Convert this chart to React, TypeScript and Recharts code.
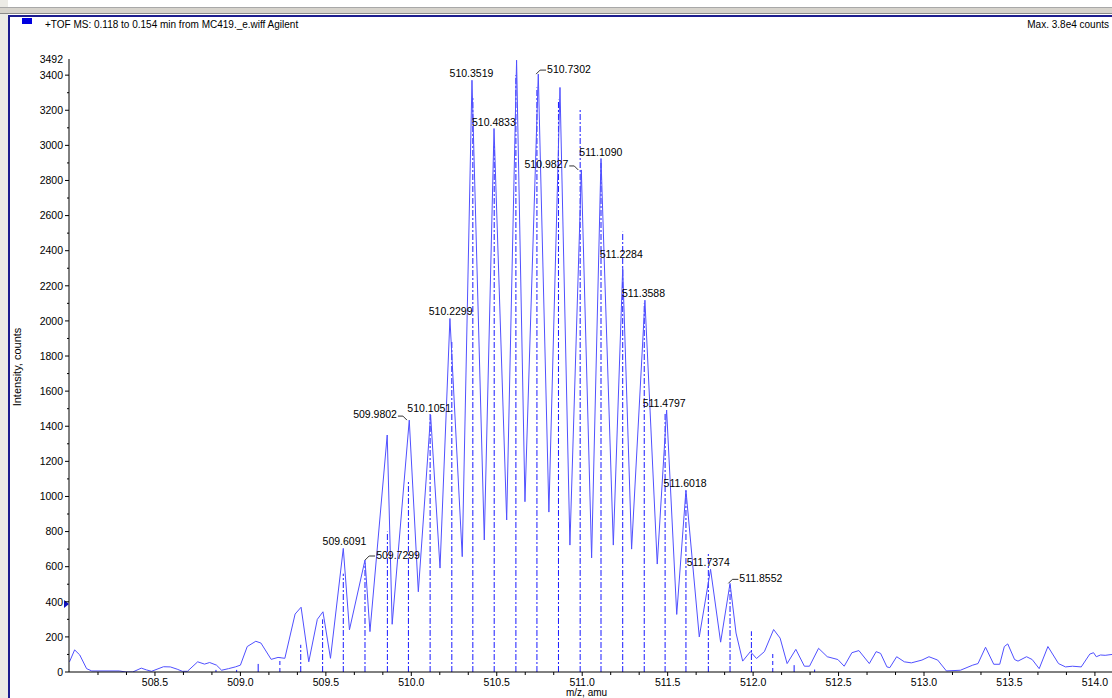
import React from "react";
import {
  ComposedChart,
  Line,
  Scatter,
  XAxis,
  YAxis,
  ReferenceLine,
  ReferenceDot,
} from "recharts";

// profile trace (m/z, counts)
const profileMz = [
  508.0, 508.03, 508.06, 508.1, 508.13, 508.29, 508.33, 508.37, 508.42, 508.45,
  508.48, 508.55, 508.59, 508.63, 508.66, 508.69, 508.75, 508.79, 508.82, 508.86,
  508.89, 508.93, 508.97, 509.0, 509.04, 509.09, 509.12, 509.18, 509.22, 509.26,
  509.32, 509.355, 509.4, 509.45, 509.483, 509.527, 509.602, 509.638, 509.729, 509.758,
  509.859, 509.888, 509.988, 510.041, 510.113, 510.168, 510.226, 510.298, 510.355, 510.427,
  510.484, 510.558, 510.616, 510.665, 510.743, 510.805, 510.87, 510.928, 510.995, 511.055,
  511.11, 511.182, 511.237, 511.289, 511.367, 511.439, 511.494, 511.553, 511.607, 511.685,
  511.751, 511.81, 511.865, 511.9, 511.939, 511.984, 512.02, 512.066, 512.12, 512.158,
  512.199, 512.25, 512.3, 512.33, 512.383, 512.434, 512.496, 512.533, 512.578, 512.619,
  512.68, 512.72, 512.746, 512.783, 512.8, 512.84, 512.885, 512.926, 512.988, 513.029,
  513.08, 513.131, 513.213, 513.285, 513.316, 513.36, 513.408, 513.443, 513.47, 513.49,
  513.53, 513.55, 513.6, 513.633, 513.674, 513.725, 513.787, 513.828, 513.869, 513.92,
  513.97, 513.992, 514.008, 514.033, 514.06, 514.1,
];
const profileCounts = [
  58, 126, 97, 19, 6, 6, 0, 0, 22, 12,
  4, 30, 29, 16, 4, 4, 58, 45, 54, 39,
  10, 19, 29, 39, 145, 175, 165, 72, 83, 78,
  330, 369, 58, 300, 343, 78, 704, 240, 638, 230,
  1350, 272, 1435, 457, 1464, 592, 2014, 657, 3371, 752,
  3096, 866, 3485, 970, 3406, 911, 3330, 723, 2860, 650,
  2925, 723, 2300, 700, 2118, 615, 1492, 328, 1036, 200,
  585, 170, 505, 222, 62, 116, 77, 116, 242, 193,
  48, 129, 33, 33, 135, 87, 71, 33, 110, 122,
  48, 116, 106, 29, 25, 87, 58, 52, 68, 87,
  68, 6, 10, 39, 48, 141, 44, 44, 145, 160,
  71, 62, 87, 71, 19, 145, 48, 29, 33, 29,
  102, 110, 87, 97, 95, 100,
];

// centroid sticks
const stickMz = [
  508.857, 508.978, 509.104, 509.231, 509.353, 509.481, 509.602, 509.729, 509.86, 509.983,
  510.11, 510.237, 510.36, 510.485, 510.612, 510.735, 510.861, 510.988, 511.11, 511.237,
  511.363, 511.485, 511.607, 511.738, 511.865, 511.99, 512.115, 512.24, 512.36,
];
const stickCounts = [
  12, 12, 46, 84, 155, 300, 560, 620, 800, 1090,
  1470, 1890, 3270, 3000, 3400, 3330, 3260, 3212, 2900, 2508,
  2100, 1480, 1030, 678, 495, 232, 106, 39, 14,
];
const stickKind = [
  "s", "s", "s", "d", "dd", "dd", "dd", "dd", "dd", "dd",
  "dd", "dd", "dd", "dd", "dd", "dd", "dd", "dd", "dd", "dd",
  "dd", "dd", "dd", "dd", "dd", "dd", "d", "s", "s",
];

// peak annotations
const labelMz = [
  509.6091, 509.7299, 509.9802, 510.1051, 510.2299, 510.3519, 510.4833, 510.6086, 510.7302,
  510.9827, 511.109, 511.2284, 511.3588, 511.4797, 511.6018, 511.7374, 511.8552,
];
const labelCounts = [
  704, 638, 1435, 1464, 2014, 3371, 3096, 3485, 3406,
  2860, 2925, 2340, 2118, 1492, 1036, 585, 505,
];
const labelSide = ["c", "r", "l", "c", "c", "c", "c", "c", "r", "l", "c", "c", "c", "c", "c", "c", "r"];

const xMajorTicks = [508.5, 509.0, 509.5, 510.0, 510.5, 511.0, 511.5, 512.0, 512.5, 513.0, 513.5, 514.0];
const yTicks = [
  0, 100, 200, 300, 400, 500, 600, 700, 800, 900, 1000, 1100, 1200, 1300, 1400, 1500, 1600, 1700,
  1800, 1900, 2000, 2100, 2200, 2300, 2400, 2500, 2600, 2700, 2800, 2900, 3000, 3100, 3200, 3300,
  3400, 3492,
];
const markerCounts = 387;

const FONT = '"Liberation Sans", Arial, sans-serif';
const TICK_FS = 10.5;

const profileData = profileMz.map((mz, i) => ({ mz, counts: profileCounts[i] }));
const labelData = labelMz.map((mz, i) => ({
  mz,
  counts: labelCounts[i],
  text: mz.toFixed(4),
  side: labelSide[i],
}));
const xTicks: number[] = [];
xMajorTicks.forEach((m) => {
  xTicks.push(m - 1 / 3, m - 1 / 6, m);
});

function YTick(props: any) {
  const { x, y, payload } = props;
  const v = payload.value;
  const top = v === 3492;
  const major = v % 200 === 0;
  return (
    <g>
      {!top && <line x1={x - (major ? 4 : 2)} x2={x} y1={y} y2={y} stroke="#000" />}
      {(major || top) && (
        <text x={x - 6} y={y} dy={3.8} textAnchor="end" fontSize={TICK_FS} fontFamily={FONT} fill="#000">
          {v}
        </text>
      )}
    </g>
  );
}

function XTick(props: any) {
  const { x, y, payload } = props;
  const v = payload.value;
  const major = Math.abs(v * 2 - Math.round(v * 2)) < 1e-6;
  return (
    <g>
      <line x1={x} x2={x} y1={y} y2={y + (major ? 4 : 3)} stroke="#000" />
      {major && (
        <text x={x} y={y + 13.5} textAnchor="middle" fontSize={TICK_FS} fontFamily={FONT} fill="#000">
          {v.toFixed(1)}
        </text>
      )}
    </g>
  );
}

function PeakLabel(props: any) {
  const { cx, cy, payload } = props;
  const t = { fontSize: 10.5, fontFamily: FONT, fill: "#000" };
  if (payload.side === "r") {
    return (
      <g>
        <polyline points={`${cx},${cy} ${cx + 4},${cy - 4} ${cx + 10},${cy - 4}`} fill="none" stroke="#333" />
        <text x={cx + 11} y={cy - 1} {...t}>
          {payload.text}
        </text>
      </g>
    );
  }
  if (payload.side === "l") {
    return (
      <g>
        <polyline points={`${cx - 1},${cy} ${cx - 5},${cy - 4} ${cx - 10},${cy - 4}`} fill="none" stroke="#333" />
        <text x={cx - 11} y={cy - 2} textAnchor="end" {...t}>
          {payload.text}
        </text>
      </g>
    );
  }
  return (
    <text x={cx} y={cy - 3} textAnchor="middle" {...t}>
      {payload.text}
    </text>
  );
}

export default function App() {
  return (
    <div
      style={{
        position: "relative",
        width: 1112,
        height: 698,
        overflow: "hidden",
        background: "#fff",
        fontFamily: FONT,
      }}
    >
      <style>{"body{margin:0}"}</style>

      {/* window frame */}
      <div style={{ position: "absolute", left: 0, top: 0, width: 8, height: 698, background: "#ecebe6" }} />
      <div style={{ position: "absolute", left: 0, top: 7, width: 1112, height: 5, background: "#d6d3cc", borderTop: "1px solid #a8a8a8", borderBottom: "1px solid #8a8a8a" }} />
      <div style={{ position: "absolute", left: 8, top: 15, width: 1104, height: 2, background: "#1c1c8e" }} />
      <div style={{ position: "absolute", left: 8, top: 15, width: 2, height: 683, background: "#1c1c8e" }} />
      <div style={{ position: "absolute", left: 22, top: 18, width: 10, height: 6, background: "#0000e0" }} />

      <div style={{ position: "absolute", left: 45, top: 19, fontSize: 10, whiteSpace: "nowrap", color: "#000" }}>
        +TOF MS: 0.118 to 0.154 min from MC419._e.wiff Agilent
      </div>
      <div style={{ position: "absolute", right: 3, top: 19, fontSize: 10, whiteSpace: "nowrap", color: "#000" }}>
        Max. 3.8e4 counts
      </div>

      <div
        style={{
          position: "absolute",
          left: 17,
          top: 367,
          transform: "translate(-50%, -50%) rotate(-90deg)",
          fontSize: 11,
          whiteSpace: "nowrap",
          color: "#000",
        }}
      >
        Intensity, counts
      </div>
      <div style={{ position: "absolute", left: 566, top: 688, fontSize: 10, lineHeight: "10px", whiteSpace: "nowrap", color: "#000" }}>
        m/z, amu
      </div>

      <div style={{ position: "absolute", left: 0, top: 0 }}>
        <ComposedChart
          width={1112}
          height={698}
          data={profileData}
          margin={{ top: 59, right: 0, bottom: 0, left: 8 }}
        >
          <XAxis
            dataKey="mz"
            type="number"
            domain={[507.997, 514.1]}
            allowDataOverflow
            ticks={xTicks}
            interval={0}
            tick={<XTick />}
            tickLine={false}
            tickSize={0}
            tickMargin={0}
            axisLine={{ stroke: "#000" }}
            height={26}
          />
          <YAxis
            type="number"
            domain={[0, 3492]}
            allowDataOverflow
            ticks={yTicks}
            interval={0}
            tick={<YTick />}
            tickLine={false}
            tickSize={0}
            tickMargin={0}
            axisLine={{ stroke: "#000" }}
            width={61}
          />

          {stickMz.map((m, i) => (
            <ReferenceLine
              key={m}
              segment={[
                { x: m, y: 0 },
                { x: m, y: stickCounts[i] },
              ]}
              stroke="#1a1aff"
              strokeWidth={1}
              strokeDasharray={stickKind[i] === "dd" ? "6 2 2 2" : stickKind[i] === "d" ? "4 3" : undefined}
              ifOverflow="hidden"
            />
          ))}

          <Line
            type="linear"
            dataKey="counts"
            stroke="#5050ff"
            strokeWidth={1}
            dot={false}
            activeDot={false}
            isAnimationActive={false}
          />

          <Scatter data={labelData} dataKey="counts" shape={(p: any) => <PeakLabel {...p} />} isAnimationActive={false} />

          <ReferenceDot
            x={507.997}
            y={markerCounts}
            r={0}
            ifOverflow="visible"
            shape={(p: any) => (
              <polygon
                points={`${p.cx - 5},${p.cy - 4} ${p.cx},${p.cy} ${p.cx - 5},${p.cy + 4}`}
                fill="#1010c0"
              />
            )}
          />
        </ComposedChart>
      </div>
    </div>
  );
}
